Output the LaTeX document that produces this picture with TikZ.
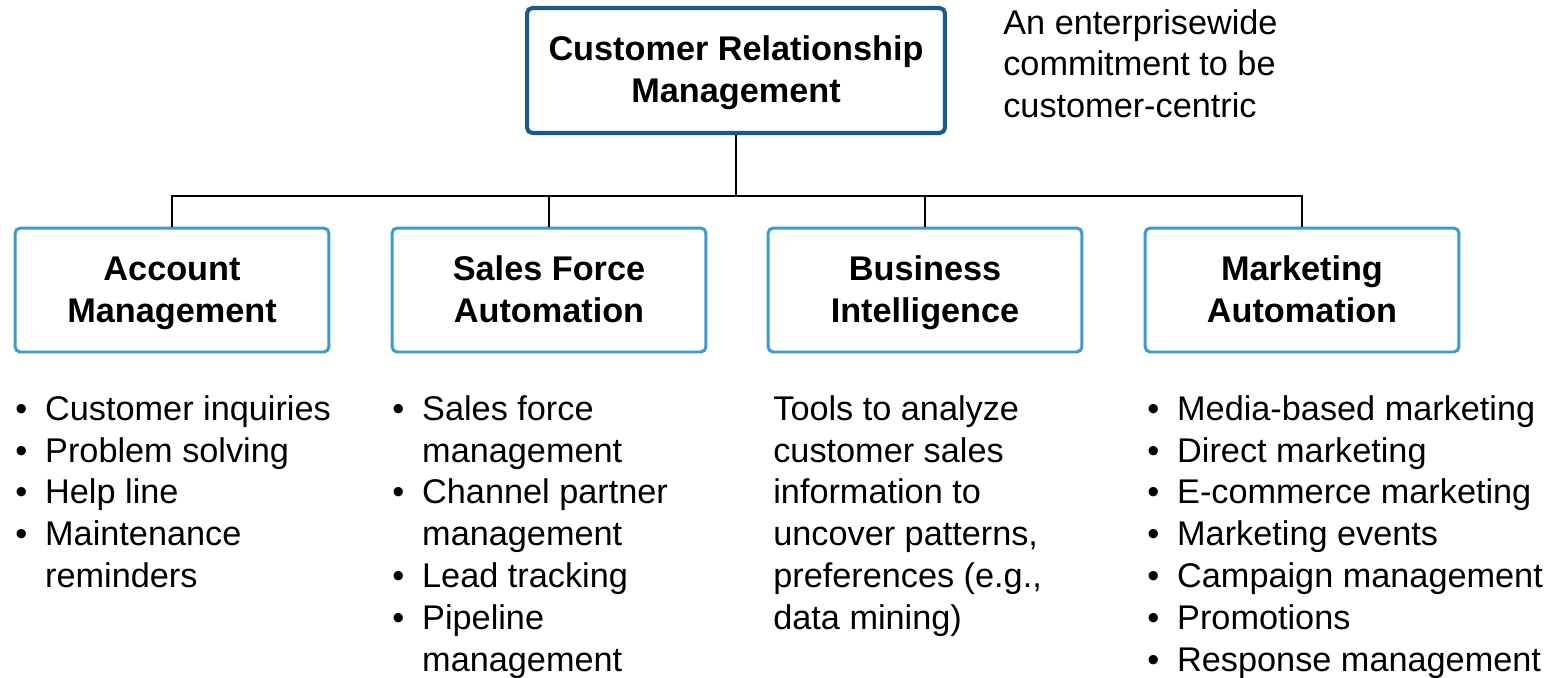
\documentclass[tikz,border=0pt]{standalone}
\usepackage{fontspec}
\setmainfont{Liberation Sans}
\usetikzlibrary{positioning}

\definecolor{topblue}{HTML}{1A5B8E}
\definecolor{subblue}{HTML}{3C9AD0}
\newcommand{\crmfont}{\fontsize{19.5pt}{23.8pt}\selectfont}
\newcommand{\bul}{\makebox[17pt][l]{\textbullet}}
\newcommand{\ind}{\hspace*{17pt}}
\newcommand{\boxlines}[1]{\raisebox{-1.7pt}[\height][\depth]{\begin{tabular}{@{}c@{}}#1\end{tabular}}}

\tikzset{
  topbox/.style={draw=topblue,line width=2.3pt,rounded corners=3pt,minimum width=8.36cm,minimum height=2.5cm,font={\crmfont\bfseries}},
  subbox/.style={draw=subblue,line width=1.7pt,rounded corners=3pt,minimum width=6.28cm,minimum height=2.48cm,font={\crmfont\bfseries}},
  listtext/.style={anchor=north west,inner sep=0pt,align=left,font=\crmfont},
  link/.style={line width=1.6pt}
}

\begin{document}
\begin{tikzpicture}[x=0.02cm,y=-0.02cm]
\useasboundingbox (0,0) rectangle (1555,677);
\node[topbox] (crm) at (736,70.5) {\boxlines{Customer Relationship\\Management}};
\node[listtext] (note) at (1003,9) {An enterprisewide\\commitment to be\\customer-centric};
\node[subbox] (acct) at (172,290) {\boxlines{Account\\Management}};
\node[subbox] (sfa) at (549,290) {\boxlines{Sales Force\\Automation}};
\node[subbox] (bi) at (925,290) {\boxlines{Business\\Intelligence}};
\node[subbox] (mkt) at (1302,290) {\boxlines{Marketing\\Automation}};
\coordinate (bus) at (736,196);
\draw[link] (crm.south) -- (bus);
\foreach \b in {acct,sfa,bi,mkt}
  \draw[link] (bus) -| (\b.north);
\node[listtext] (acctlist) at (15,395) {\bul Customer inquiries\\\bul Problem solving\\\bul Help line\\\bul Maintenance\\\ind reminders};
\node[listtext] (sfalist) at (392,395) {\bul Sales force\\\ind management\\\bul Channel partner\\\ind management\\\bul Lead tracking\\\bul Pipeline\\\ind management};
\node[listtext] (bilist) at (773,395) {Tools to analyze\\customer sales\\information to\\uncover patterns,\\preferences (e.g.,\\data mining)};
\node[listtext] (mktlist) at (1147,395) {\bul Media-based marketing\\\bul Direct marketing\\\bul E-commerce marketing\\\bul Marketing events\\\bul Campaign management\\\bul Promotions\\\bul Response management};
\end{tikzpicture}
\end{document}
